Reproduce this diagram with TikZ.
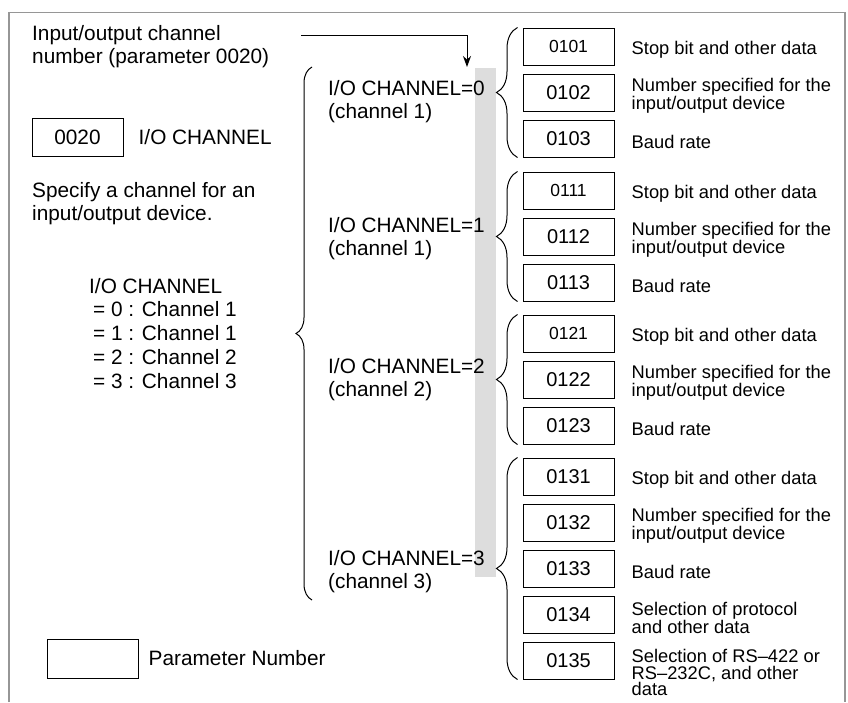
\documentclass[tikz,border=0pt]{standalone}
\usepackage{fontspec}
\setmainfont{Liberation Sans}
\usepackage{xcolor}
\usepackage{tikz}
\usetikzlibrary{arrows.meta,positioning,decorations.pathreplacing}
\definecolor{framegray}{RGB}{150,150,150}
\definecolor{bandgray}{RGB}{221,221,221}

\begin{document}
\begin{tikzpicture}[x=1pt,y=-1pt,>={Stealth[length=11pt,width=8pt]},
    txt/.style={align=left, inner sep=0pt, font=\fontsize{20.8}{23}\selectfont},
    pbox/.style={draw, line width=1pt, minimum width=91pt, minimum height=37pt, inner sep=0pt, font=\fontsize{20}{22}\selectfont},
    pboxs/.style={pbox, font=\fontsize{17.5}{20}\selectfont},
    desc/.style={align=left, inner sep=0pt, font=\fontsize{18.3}{16.5}\selectfont},
    brc/.style={decorate, decoration={brace, amplitude=#1}, line width=1pt}]
  \useasboundingbox (0,0) rectangle (848,702);

  % frame and shaded band
  \fill[bandgray] (475,68) rectangle (496,577);
  \draw[framegray, line width=1.5pt] (9,702) -- (9,12.5) -- (845,12.5) -- (845,702);

  % left column
  \node (title) [txt, anchor=north west] at (32,25) {Input/output channel\\number (parameter 0020)};
  \node (p0020) [pbox, minimum height=38pt, font=\fontsize{20.8}{23}\selectfont] at (77.5,137) {0020};
  \node (p0020name) [txt, right=15pt of p0020] {I/O CHANNEL};
  \node (spec) [txt, anchor=north west] at (32,182) {Specify a channel for an\\input/output device.};
  \node (legend) [txt, anchor=north west, font=\fontsize{20.8}{23.7}\selectfont] at (89,278)
    {I/O CHANNEL\\\hspace*{4pt}= 0 : Channel 1\\\hspace*{4pt}= 1 : Channel 1\\\hspace*{4pt}= 2 : Channel 2\\\hspace*{4pt}= 3 : Channel 3};
  \node (keybox) [pbox, minimum height=39pt] at (92.5,658.5) {};
  \node (keyname) [txt, right=10pt of keybox] {Parameter Number};

  % channel settings
  \node (ch0) [txt, anchor=north west] at (328,80) {I/O CHANNEL=0\\(channel 1)};
  \node (ch1) [txt, anchor=north west] at (328,217) {I/O CHANNEL=1\\(channel 1)};
  \node (ch2) [txt, anchor=north west] at (328,358) {I/O CHANNEL=2\\(channel 2)};
  \node (ch3) [txt, anchor=north west] at (328,550) {I/O CHANNEL=3\\(channel 3)};

  \coordinate (arrstart) at (301,35);
  \coordinate (arrend) at (467,67);
  \draw[->, line width=1pt] (arrstart) -| (arrend);

  \draw[brc=16pt] (312,600) -- (312,67);

  % channel 0
  \node (b0101) [pboxs] at (568.5,46.5) {0101};
  \node (b0102) [pbox, below=8pt of b0101] {0102};
  \node (b0103) [pbox, below=8pt of b0102] {0103};
  \node (d0101) [desc, right=17pt of b0101, yshift=-3pt] {Stop bit and other data};
  \node (d0102) [desc, right=17pt of b0102, yshift=-3pt] {Number specified for the\\input/output device};
  \node (d0103) [desc, right=17pt of b0103, yshift=-3pt] {Baud rate};
  \draw[brc=21pt] ([xshift=-5pt]b0103.south west) -- ([xshift=-5pt]b0101.north west);

  % channel 1
  \node (b0111) [pboxs] at (568.5,190.5) {0111};
  \node (b0112) [pbox, below=8pt of b0111] {0112};
  \node (b0113) [pbox, below=8pt of b0112] {0113};
  \node (d0111) [desc, right=17pt of b0111, yshift=-3pt] {Stop bit and other data};
  \node (d0112) [desc, right=17pt of b0112, yshift=-3pt] {Number specified for the\\input/output device};
  \node (d0113) [desc, right=17pt of b0113, yshift=-3pt] {Baud rate};
  \draw[brc=21pt] ([xshift=-5pt]b0113.south west) -- ([xshift=-5pt]b0111.north west);

  % channel 2
  \node (b0121) [pboxs] at (568.5,333.5) {0121};
  \node (b0122) [pbox, below=8pt of b0121] {0122};
  \node (b0123) [pbox, below=8pt of b0122] {0123};
  \node (d0121) [desc, right=17pt of b0121, yshift=-3pt] {Stop bit and other data};
  \node (d0122) [desc, right=17pt of b0122, yshift=-3pt] {Number specified for the\\input/output device};
  \node (d0123) [desc, right=17pt of b0123, yshift=-3pt] {Baud rate};
  \draw[brc=21pt] ([xshift=-5pt]b0123.south west) -- ([xshift=-5pt]b0121.north west);

  % channel 3
  \node (b0131) [pbox] at (568.5,476.5) {0131};
  \node (b0132) [pbox, below=8pt of b0131] {0132};
  \node (b0133) [pbox, below=8pt of b0132] {0133};
  \node (b0134) [pbox, below=8pt of b0133] {0134};
  \node (b0135) [pbox, below=8pt of b0134] {0135};
  \node (d0131) [desc, right=17pt of b0131, yshift=-3pt] {Stop bit and other data};
  \node (d0132) [desc, right=17pt of b0132, yshift=-3pt] {Number specified for the\\input/output device};
  \node (d0133) [desc, right=17pt of b0133, yshift=-3pt] {Baud rate};
  \node (d0134) [desc, right=17pt of b0134, yshift=-3pt] {Selection of protocol\\and other data};
  \node (d0135) [desc, anchor=north west] at ([xshift=17pt,yshift=-8pt]b0135.north east) {Selection of RS--422 or\\RS--232C, and other\\data};
  \draw[brc=21pt] ([xshift=-5pt]b0135.south west) -- ([xshift=-5pt]b0131.north west);
\end{tikzpicture}
\end{document}
